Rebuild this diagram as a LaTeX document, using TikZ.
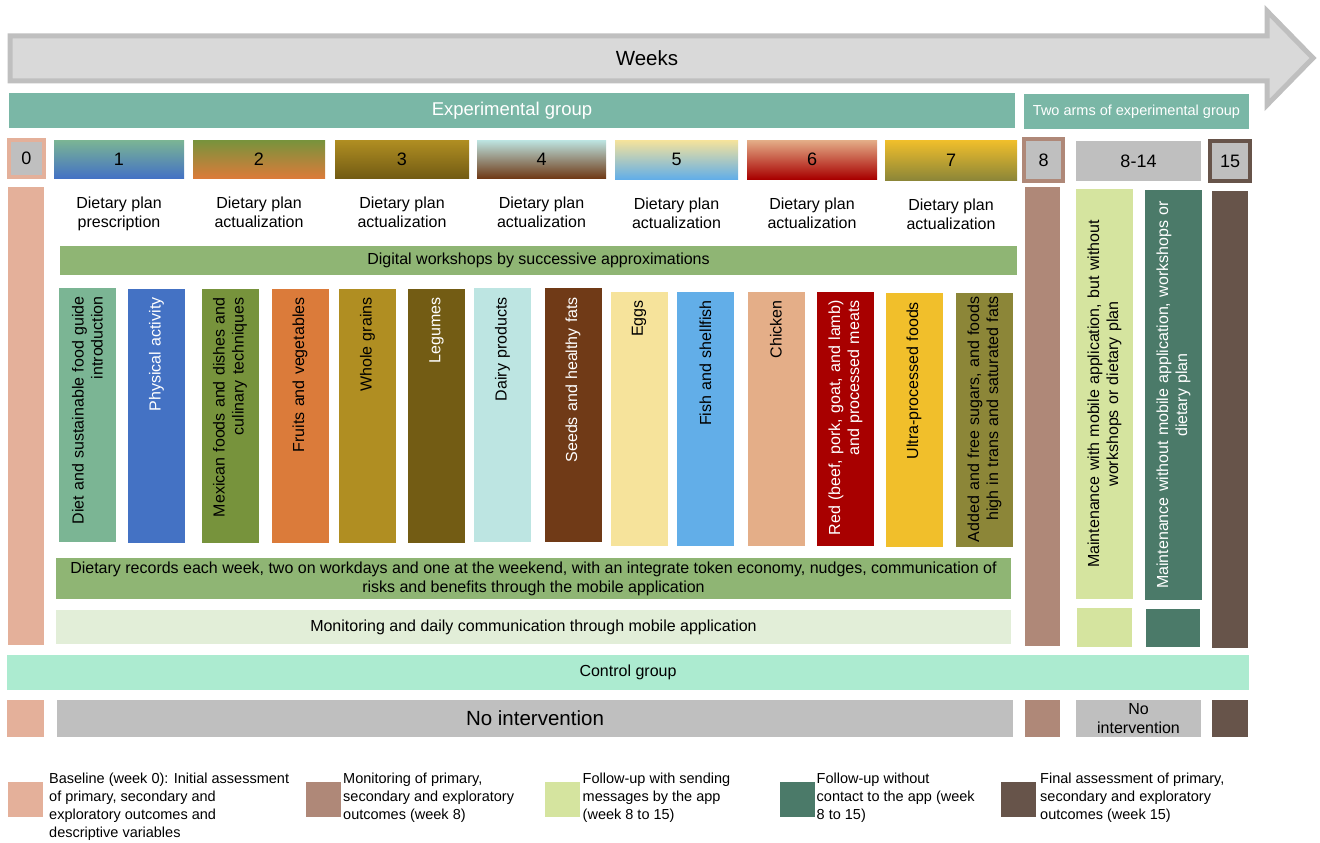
\documentclass[tikz,border=0pt]{standalone}
\usepackage{fontspec}
\setmainfont{Liberation Sans}
\usetikzlibrary{positioning}
\usetikzlibrary{fit}

\definecolor{arrowfill}{HTML}{D9D9D9}
\definecolor{arrowedge}{HTML}{BFBFBF}
\definecolor{expteal}{HTML}{7AB7A6}
\definecolor{salmon}{HTML}{E4B09A}
\definecolor{boxgray}{HTML}{BFBFBF}
\definecolor{midbrown}{HTML}{AF8878}
\definecolor{darkbrown}{HTML}{67544A}
\definecolor{wsgreen}{HTML}{8FB574}
\definecolor{monlight}{HTML}{E2EED8}
\definecolor{armlight}{HTML}{D5E49F}
\definecolor{armdark}{HTML}{4B7A69}
\definecolor{ctlmint}{HTML}{ACEBD0}
\definecolor{cDiet}{HTML}{7BB594}
\definecolor{cPhys}{HTML}{4472C4}
\definecolor{cMex}{HTML}{77933C}
\definecolor{cFruit}{HTML}{DB7B3A}
\definecolor{cGrain}{HTML}{B08E22}
\definecolor{cLeg}{HTML}{735C14}
\definecolor{cDairy}{HTML}{BDE5E2}
\definecolor{cSeed}{HTML}{703A17}
\definecolor{cEgg}{HTML}{F6E39B}
\definecolor{cFish}{HTML}{62AEE8}
\definecolor{cChick}{HTML}{E4AE88}
\definecolor{cRed}{HTML}{A80000}
\definecolor{cUltra}{HTML}{F1BF2B}
\definecolor{cAdd}{HTML}{8C8638}

\begin{document}
\begin{tikzpicture}[
    x=1pt, y=-1pt,
    every node/.style={font=\fontsize{16}{19}\selectfont},
    blk/.style={inner sep=0, outer sep=0},
    wknum/.style={font=\fontsize{18}{20}\selectfont},
    plan/.style={inner sep=0, align=center},
    topic/.style={rotate=90, inner sep=0, minimum width=254pt, minimum height=57pt, text width=236pt, align=right},
    arm/.style={rotate=90, inner sep=0, minimum width=410pt, minimum height=57pt, text width=400pt, align=center},
    legbox/.style={blk, minimum size=35pt},
    legtext/.style={inner sep=0, align=left, anchor=north west, font=\fontsize{14.5}{18}\selectfont}
]
\useasboundingbox (0,0) rectangle (1320,843);

% Weeks arrow
\draw[line width=5pt, draw=arrowedge, fill=arrowfill, line join=miter]
    (10,36) -- (1267,36) -- (1267,11) -- (1313,58) -- (1267,105) -- (1267,81) -- (10,81) -- cycle;
\node (weeks) at (647,58) {\fontsize{20.5}{24}\selectfont Weeks};

% Groups
\node[blk, fill=expteal, fit={(9,93)(1015,128)},
    label={[text=white, font=\fontsize{18.5}{22}\selectfont]center:Experimental group}] (expgroup) {};
\node[blk, fill=expteal, fit={(1024,94)(1249,129)},
    label={[text=white, font=\fontsize{14.5}{18}\selectfont]center:Two arms of experimental group}] (twoarms) {};

% Week boxes
\node[blk, fill=boxgray, draw=salmon, line width=4pt, fit={(9,140)(44,177)}, label={[wknum]center:0}] (w0) {};
\node[blk, top color=cDiet, bottom color=cPhys, fit={(54,140)(184,178)}, label={[wknum]center:1}] (w1) {};
\node[blk, top color=cMex, bottom color=cFruit, fit={(193,140)(325,178)}, label={[wknum]center:2}] (w2) {};
\node[blk, top color=cGrain, bottom color=cLeg, fit={(335,140)(469,178)}, label={[wknum]center:3}] (w3) {};
\node[blk, top color=cDairy, bottom color=cSeed, fit={(477,140)(606,178)}, label={[wknum]center:4}] (w4) {};
\node[blk, top color=cEgg, bottom color=cFish, fit={(615,140)(738,179)}, label={[wknum]center:5}] (w5) {};
\node[blk, top color=cChick, bottom color=cRed, fit={(747,140)(877,179)}, label={[wknum]center:6}] (w6) {};
\node[blk, top color=cUltra, bottom color=cAdd, fit={(885,140)(1017,180)}, label={[wknum]center:7}] (w7) {};
\node[blk, fill=boxgray, draw=midbrown, line width=4pt, fit={(1024,139)(1063,181)}, label={[wknum]center:8}] (w8) {};
\node[blk, fill=boxgray, fit={(1076,141)(1201,181)}, label={[wknum]center:8-14}] (w814) {};
\node[blk, fill=boxgray, draw=darkbrown, line width=4pt, fit={(1210,141)(1250,181)}, label={[wknum]center:15}] (w15) {};

% Dietary plans
\node[plan, below=19pt of w1] (p1) {Dietary plan\\prescription};
\node[plan, below=19pt of w2] (p2) {Dietary plan\\actualization};
\node[plan, below=19pt of w3] (p3) {Dietary plan\\actualization};
\node[plan, below=19pt of w4] (p4) {Dietary plan\\actualization};
\node[plan, below=19pt of w5] (p5) {Dietary plan\\actualization};
\node[plan, below=19pt of w6] (p6) {Dietary plan\\actualization};
\node[plan, below=19pt of w7] (p7) {Dietary plan\\actualization};

\node[blk, fill=wsgreen, fit={(60,246)(1017,275)},
    label=center:Digital workshops by successive approximations] (workshops) {};

% Workshop topics
\node[topic, fill=cDiet] (tDiet) at (87.5,414.5) {Diet and sustainable food guide\\introduction};
\node[topic, fill=cPhys, text=white] (tPhys) at (156.5,415.5) {Physical activity};
\node[topic, fill=cMex] (tMex) at (230,415.5) {Mexican foods and dishes and\\culinary techniques};
\node[topic, fill=cFruit] (tFruit) at (300,415.5) {Fruits and vegetables};
\node[topic, fill=cGrain] (tGrain) at (367.5,415.5) {Whole grains};
\node[topic, fill=cLeg, text=white] (tLeg) at (436.5,415.5) {Legumes};
\node[topic, fill=cDairy] (tDairy) at (502.5,415) {Dairy products};
\node[topic, fill=cSeed, text=white] (tSeed) at (573,415) {Seeds and healthy fats};
\node[topic, fill=cEgg] (tEgg) at (639,418.5) {Eggs};
\node[topic, fill=cFish] (tFish) at (705.5,418.5) {Fish and shellfish};
\node[topic, fill=cChick] (tChick) at (776,418.5) {Chicken};
\node[topic, fill=cRed, text=white] (tRed) at (845.5,418.5) {Red (beef, pork, goat, and lamb)\\and processed meats};
\node[topic, fill=cUltra] (tUltra) at (914,420) {Ultra-processed foods};
\node[topic, fill=cAdd, text width=247pt] (tAdd) at (984.5,420) {Added and free sugars, and foods\\high in trans and saturated fats};

\node[blk, fill=wsgreen, fit={(56,558)(1011,599)},
    label={[align=center]center:{Dietary records each week, two on workdays and one at the weekend, with an integrate token economy, nudges, communication of\\risks and benefits through the mobile application}}] (records) {};
\node[blk, fill=monlight, fit={(56,610)(1011,644)},
    label=center:Monitoring and daily communication through mobile application] (monitor) {};

% Assessment columns
\node[blk, fill=salmon, fit={(8,187)(44,645)}] (col0) {};
\node[blk, fill=midbrown, fit={(1025,187)(1060,646)}] (col8) {};
\node[blk, fill=darkbrown, fit={(1212,191)(1248,648)}] (col15) {};

% Two arms
\node[arm, fill=armlight] (armA) at (1104.5,394) {Maintenance with mobile application, but without\\workshops or dietary plan};
\node[arm, fill=armdark, text=white] (armB) at (1173.5,395) {Maintenance without mobile application, workshops or\\dietary plan};
\node[blk, fill=armlight, fit={(1077,608)(1132,647)}] (armAsq) {};
\node[blk, fill=armdark, fit={(1146,609)(1200,647)}] (armBsq) {};

% Control group
\node[blk, fill=ctlmint, fit={(7,655)(1249,690)}, label=center:Control group] (control) {};
\node[blk, fill=salmon, fit={(7,700)(44,737)}] (c0) {};
\node[blk, fill=boxgray, fit={(57,700)(1013,737)},
    label={[font=\fontsize{20.5}{24}\selectfont]center:No intervention}] (cnone) {};
\node[blk, fill=midbrown, fit={(1025,700)(1060,737)}] (c8) {};
\node[blk, fill=boxgray, fit={(1076,700)(1201,737)}, label={[align=center]center:No\\intervention}] (c814) {};
\node[blk, fill=darkbrown, fit={(1212,700)(1248,737)}] (c15) {};

% Legend
\node[legbox, fill=salmon] (lg1) at (25.5,799.5) {};
\node[legtext] (lt1) at ([xshift=6pt,yshift=9.5pt]lg1.north east) {Baseline (week 0): Initial assessment\\of primary, secondary and\\exploratory outcomes and\\descriptive variables};
\node[legbox, fill=midbrown] (lg2) at (323.5,799.5) {};
\node[legtext] (lt2) at ([xshift=2pt,yshift=9.5pt]lg2.north east) {Monitoring of primary,\\secondary and exploratory\\outcomes (week 8)};
\node[legbox, fill=armlight] (lg3) at (562,799.5) {};
\node[legtext] (lt3) at ([xshift=3pt,yshift=9.5pt]lg3.north east) {Follow-up with sending\\messages by the app\\(week 8 to 15)};
\node[legbox, fill=armdark] (lg4) at (797,799.5) {};
\node[legtext] (lt4) at ([xshift=2pt,yshift=9.5pt]lg4.north east) {Follow-up without\\contact to the app (week\\8 to 15)};
\node[legbox, fill=darkbrown] (lg5) at (1018.5,799.5) {};
\node[legtext] (lt5) at ([xshift=4pt,yshift=9.5pt]lg5.north east) {Final assessment of primary,\\secondary and exploratory\\outcomes (week 15)};

\end{tikzpicture}
\end{document}
